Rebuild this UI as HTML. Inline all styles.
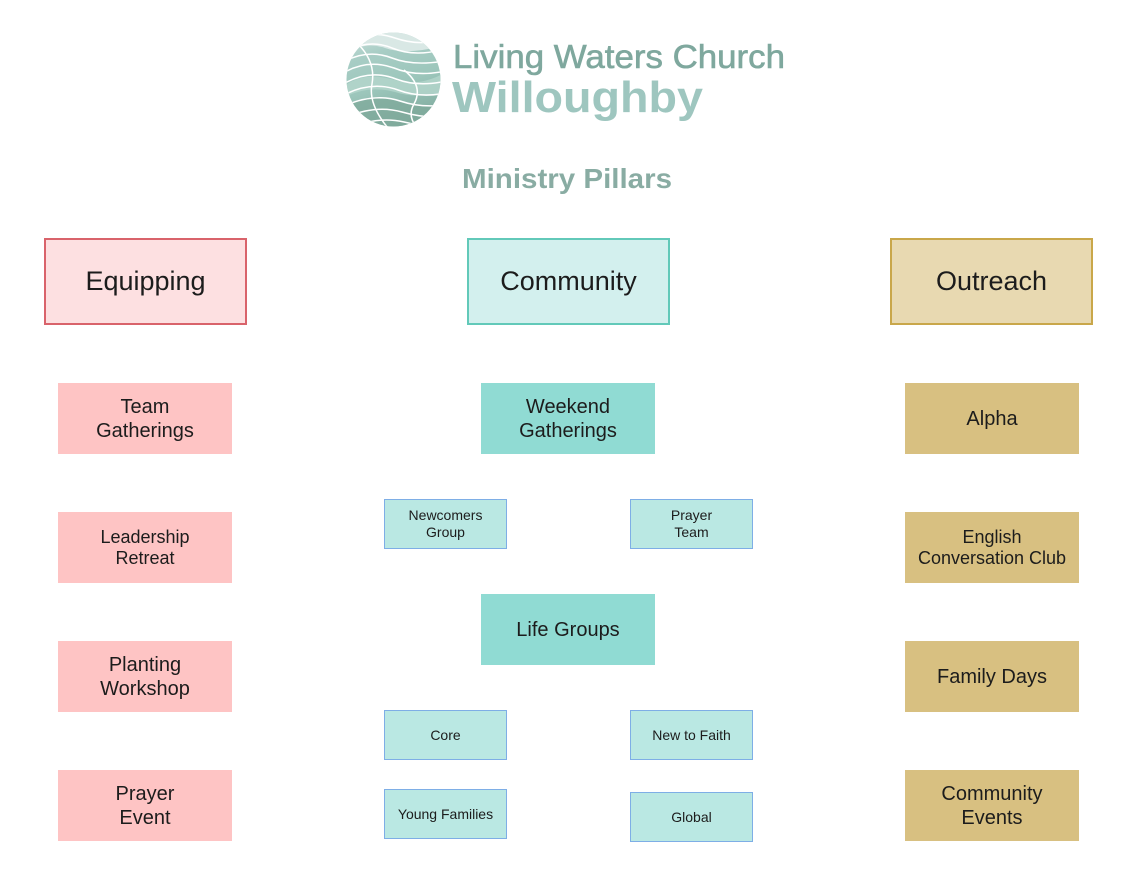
<!DOCTYPE html>
<html>
<head>
<meta charset="utf-8">
<style>
  html,body{margin:0;padding:0;background:#fff;}
  body{width:1136px;height:879px;position:relative;overflow:hidden;font-family:"Liberation Sans",sans-serif;color:#1c1c1c;}
  .b{position:absolute;box-sizing:border-box;display:flex;align-items:center;justify-content:center;text-align:center;}
  .h{font-size:27px;}
  .i{font-size:20px;line-height:24px;}
  .s{font-size:14px;line-height:17px;background:#bae8e3;border:1.5px solid #7eaee6;}
  .pk{background:#fec4c4;}
  .gd{background:#d8c081;}
  .tl{background:#90dbd3;}
</style>
</head>
<body>
<svg width="1136" height="879" style="position:absolute;left:0;top:0" xmlns="http://www.w3.org/2000/svg">
  <defs>
    <clipPath id="cc"><circle cx="393.5" cy="79.5" r="47"/></clipPath>
    <linearGradient id="lg" x1="0" y1="0" x2="0.3" y2="1">
      <stop offset="0" stop-color="#d5e6e2"/>
      <stop offset="0.3" stop-color="#a8cdc5"/>
      <stop offset="0.6" stop-color="#9cc6bb"/>
      <stop offset="1" stop-color="#7ea99c"/>
    </linearGradient>
  </defs>
  <g clip-path="url(#cc)">
    <rect x="340" y="28" width="110" height="110" fill="url(#lg)"/>
    <path d="M340 58 Q362 40 385 48 T450 44 L450 28 L340 28Z" fill="#d9e8e5"/>
    <path d="M340 90 Q360 70 395 80 Q420 88 450 70 L450 90 Q420 100 395 92 Q365 84 340 100Z" fill="#b4d6cc" opacity="0.8"/>
    <path d="M340 108 Q370 92 400 102 T450 96 L450 140 L340 140Z" fill="#7fa99b" opacity="0.75"/>
    <g fill="none" stroke="#ffffff" stroke-width="1.5">
      <path d="M352 40 Q372 30 395 38 T440 40"/>
      <path d="M343 53 Q368 38 392 48 T448 48"/>
      <path d="M340 64 Q366 48 392 58 Q415 67 450 60"/>
      <path d="M340 75 Q366 58 394 68 Q418 78 450 70"/>
      <path d="M340 86 Q368 68 396 79 Q420 88 450 80"/>
      <path d="M340 97 Q370 80 398 90 Q422 99 450 92"/>
      <path d="M340 108 Q372 92 400 101 Q424 109 450 104"/>
      <path d="M342 119 Q374 104 402 112 Q426 119 450 116"/>
      <path d="M350 128 Q378 116 404 122 Q428 128 450 126"/>
      <path d="M358 44 Q376 62 372 84 Q368 104 388 128"/>
      <path d="M404 70 Q424 86 414 104 Q406 118 420 130"/>
    </g>
  </g>
  <text x="453" y="68" font-family="Liberation Sans, sans-serif" font-size="33" fill="#7fa89e" stroke="#7fa89e" stroke-width="0.6" textLength="332" lengthAdjust="spacingAndGlyphs">Living Waters Church</text>
  <text x="452" y="112" font-family="Liberation Sans, sans-serif" font-size="44" font-weight="bold" fill="#9ec6bf" textLength="251" lengthAdjust="spacingAndGlyphs">Willoughby</text>
  <text x="567" y="188" text-anchor="middle" font-family="Liberation Sans, sans-serif" font-size="28" font-weight="bold" fill="#89aca3" textLength="210" lengthAdjust="spacingAndGlyphs">Ministry Pillars</text>
</svg>

<!-- headers -->
<div class="b h" style="left:44px;top:238px;width:203px;height:87px;background:#fde0e1;border:2px solid #d9636b;">Equipping</div>
<div class="b h" style="left:467px;top:238px;width:203px;height:87px;background:#d3f0ee;border:2px solid #62c9b9;">Community</div>
<div class="b h" style="left:890px;top:238px;width:203px;height:87px;background:#e8d9b1;border:2px solid #c9a74a;">Outreach</div>

<!-- left column -->
<div class="b i pk" style="left:58px;top:383px;width:174px;height:71px;">Team<br>Gatherings</div>
<div class="b i pk" style="left:58px;top:512px;width:174px;height:71px;font-size:18px;line-height:21px;">Leadership<br>Retreat</div>
<div class="b i pk" style="left:58px;top:641px;width:174px;height:71px;">Planting<br>Workshop</div>
<div class="b i pk" style="left:58px;top:770px;width:174px;height:71px;">Prayer<br>Event</div>

<!-- right column -->
<div class="b i gd" style="left:905px;top:383px;width:174px;height:71px;">Alpha</div>
<div class="b i gd" style="left:905px;top:512px;width:174px;height:71px;font-size:18px;line-height:21px;">English<br>Conversation Club</div>
<div class="b i gd" style="left:905px;top:641px;width:174px;height:71px;">Family Days</div>
<div class="b i gd" style="left:905px;top:770px;width:174px;height:71px;">Community<br>Events</div>

<!-- center -->
<div class="b i tl" style="left:481px;top:383px;width:174px;height:71px;">Weekend<br>Gatherings</div>
<div class="b i tl" style="left:481px;top:594px;width:174px;height:71px;">Life Groups</div>

<div class="b s" style="left:384px;top:499px;width:123px;height:50px;">Newcomers<br>Group</div>
<div class="b s" style="left:630px;top:499px;width:123px;height:50px;">Prayer<br>Team</div>
<div class="b s" style="left:384px;top:710px;width:123px;height:50px;">Core</div>
<div class="b s" style="left:630px;top:710px;width:123px;height:50px;">New to Faith</div>
<div class="b s" style="left:384px;top:789px;width:123px;height:50px;">Young Families</div>
<div class="b s" style="left:630px;top:792px;width:123px;height:50px;">Global</div>
</body>
</html>
